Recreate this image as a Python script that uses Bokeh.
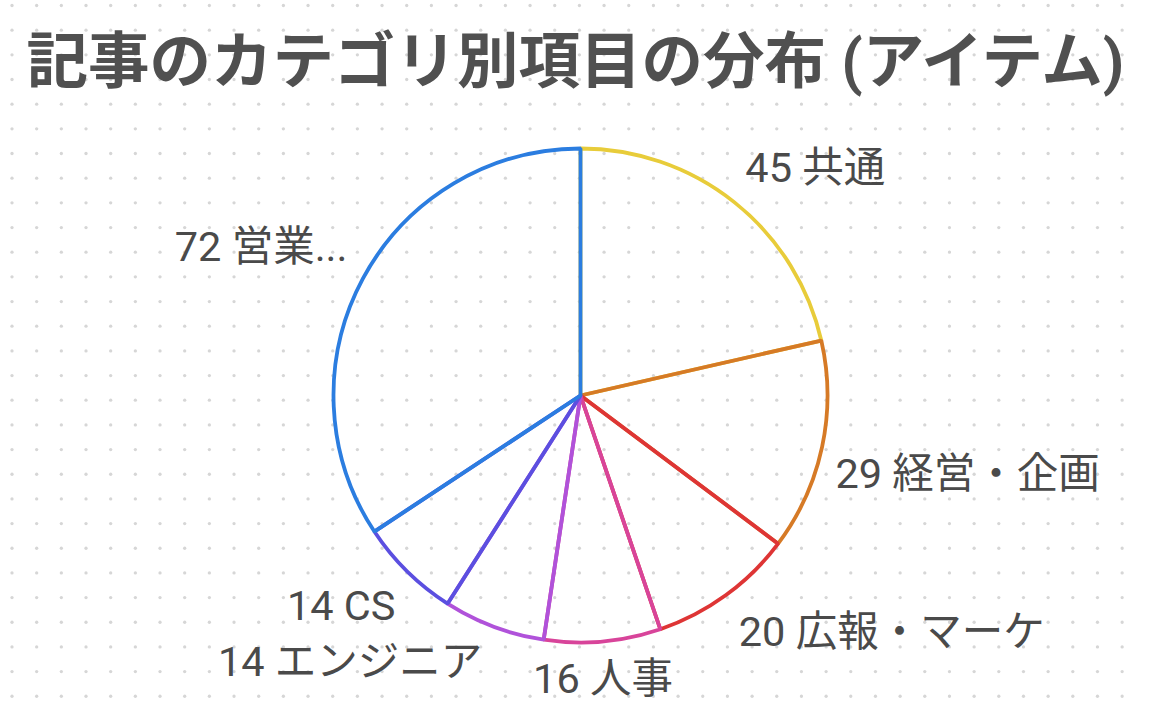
import numpy as np
from bokeh.plotting import figure
from bokeh.models import Range1d, ColumnDataSource
from bokeh.core.properties import value
from bokeh.embed import file_html
from bokeh.resources import INLINE

# ---- data ----
categories = ["共通", "経営・企画", "広報・マーケ", "人事", "エンジニア", "CS", "営業..."]
counts = [45, 29, 20, 16, 14, 14, 72]
colors = ["#e8cc3a", "#d67a26", "#de3535", "#d8449a", "#b052da", "#5b4fe0", "#2b7de0"]
title_text = "記事のカテゴリ別項目の分布 (アイテム)"

# label nudges in screen pixels (dx right, dy down)
label_nudge = [(-20, 4), (-35, 16), (-16, -4), (-4, -12), (6, -12), (23, -1), (28, -9)]

W, H = 1142, 712
def Y(img_y):
    return 720 - img_y

p = figure(width=W, height=H, output_backend="svg", toolbar_location=None,
           x_range=Range1d(0, W), y_range=Range1d(8, 8 + H),
           min_border=0, match_aspect=False)
p.axis.visible = False
p.grid.visible = False
p.outline_line_color = None
p.background_fill_color = "white"
p.border_fill_color = "white"

# dotted background
gx = np.arange(11.5, 1158, 24.67)
gy = np.arange(5, 728, 24.67)
GX, GY = np.meshgrid(gx, gy)
p.scatter(GX.ravel(), Y(GY.ravel()), size=3.3, fill_color="#d6d6d6", line_color=None)

# pie
cx, cy, R = 580, Y(395), 247
total = sum(counts)
cum = np.concatenate([[0], np.cumsum(counts)])
start = np.pi / 2 - cum[:-1] / total * 2 * np.pi
end = np.pi / 2 - cum[1:] / total * 2 * np.pi
src = ColumnDataSource(dict(start=start, end=end, color=colors))
p.wedge(x=cx, y=cy, radius=R, start_angle="start", end_angle="end", direction="clock",
        fill_color=None, line_color="color", line_width=3.8, source=src)

# labels
mid = (start + end) / 2
rl = R * 1.2
lx, ly, la, lt = [], [], [], []
for i, (c, n) in enumerate(zip(categories, counts)):
    ax = cx + rl * np.cos(mid[i]) + label_nudge[i][0]
    ay = cy + rl * np.sin(mid[i]) - label_nudge[i][1]
    s = np.cos(mid[i])
    align = "left" if s > 0.3 else ("right" if s < -0.3 else "center")
    lx.append(ax); ly.append(ay); la.append(align); lt.append(f"{n} {c}")
p.text(x=lx, y=ly, text=lt, text_align=la, text_baseline="middle",
       text_font=value("Roboto, 'Noto Sans CJK JP'"), text_font_size="41.5px",
       text_color="#4a4a4a")

# title
p.text(x=[578], y=[Y(61)], text=[title_text], text_align="center", text_baseline="middle",
       text_font=value("Roboto, 'Noto Sans CJK JP'"), text_font_size="61.5px",
       text_font_style="bold", text_color="#505050")

open("out.html", "w").write(file_html(p, INLINE))
